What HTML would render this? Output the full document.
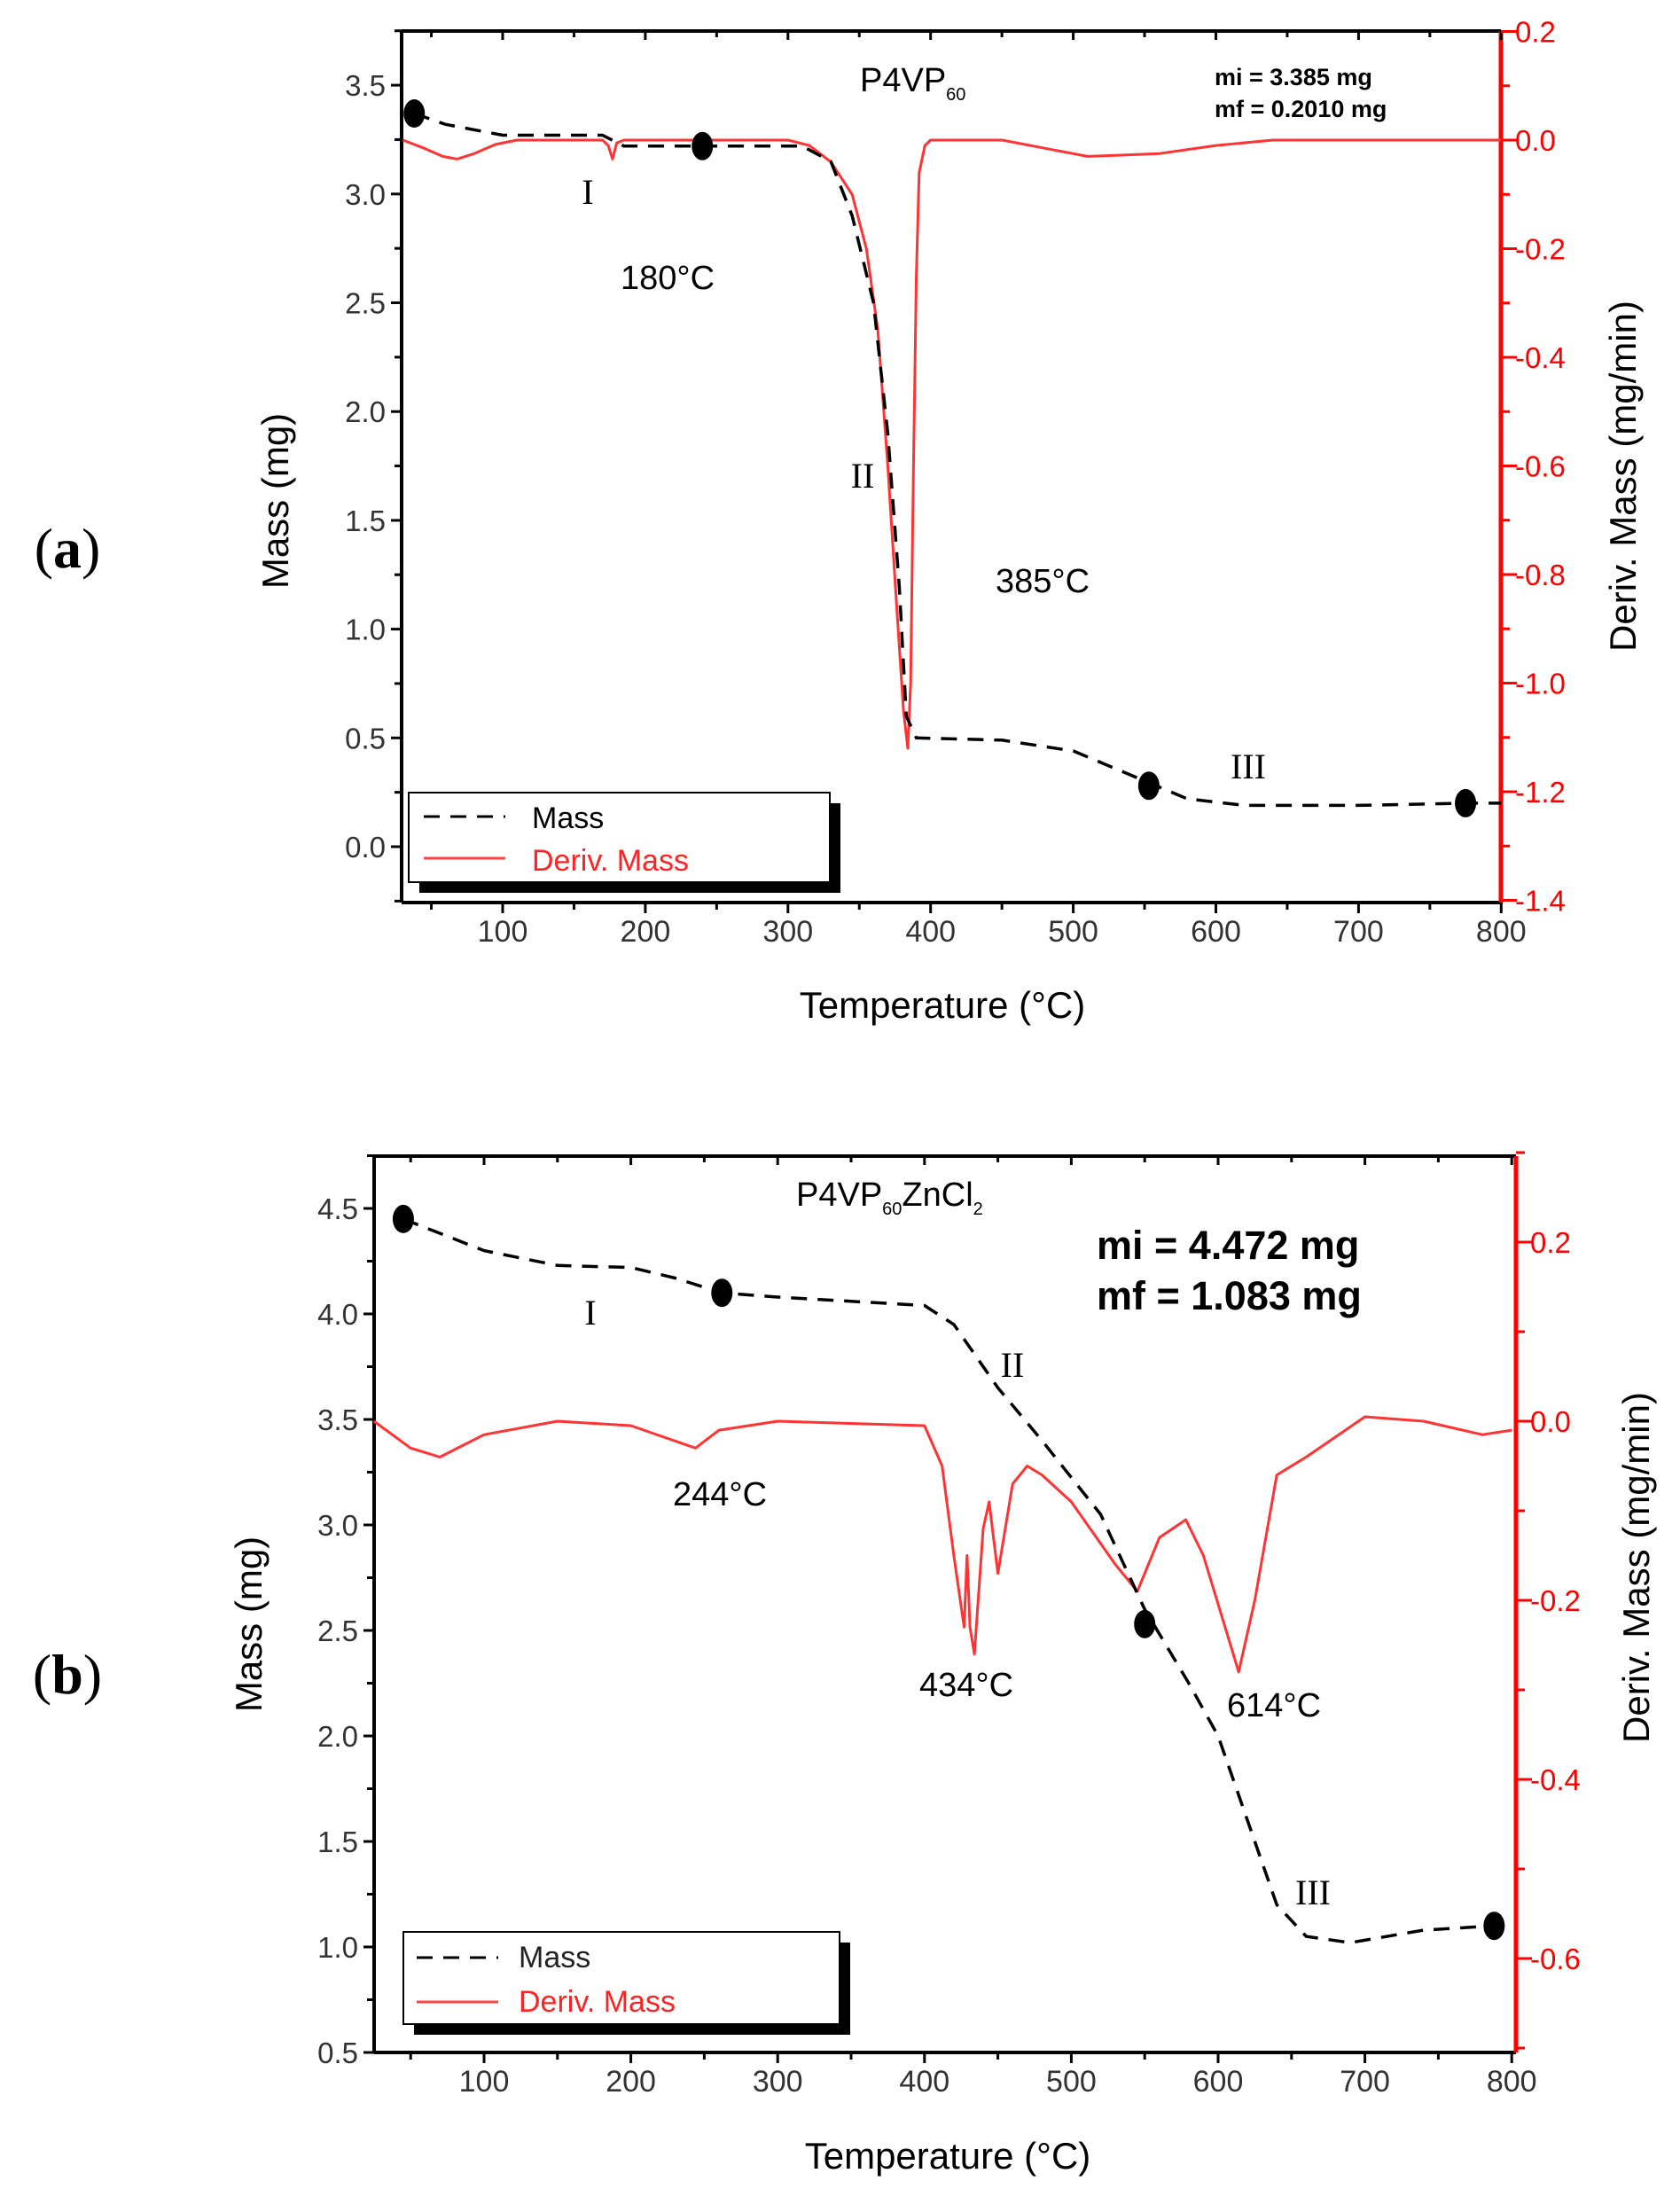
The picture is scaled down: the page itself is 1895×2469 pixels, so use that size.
<!DOCTYPE html>
<html><head><meta charset="utf-8"><style>
html,body{margin:0;padding:0;background:#fff;}
svg{display:block;}
text{font-family:"Liberation Sans",sans-serif;}
text.serif{font-family:"Liberation Serif",serif;}
</style></head><body>
<svg id="s" width="1895" height="2469" viewBox="0 0 1895 2469" xmlns="http://www.w3.org/2000/svg">
<rect width="1895" height="2469" fill="#fff"/>
<g id="g"></g>
<text class="serif" x="76" y="640" font-size="64" text-anchor="middle">(<tspan font-weight="bold">a</tspan>)</text>
<text class="serif" x="76" y="1910" font-size="64" text-anchor="middle">(<tspan font-weight="bold">b</tspan>)</text>

<text transform="translate(325,565) rotate(-90)" font-size="42" text-anchor="middle">Mass (mg)</text>
<text transform="translate(1845,537) rotate(-90)" font-size="42" text-anchor="middle">Deriv. Mass  (mg/min)</text>
<text x="1063" y="1148" font-size="42" text-anchor="middle">Temperature (°C)</text>
<text transform="translate(295,1832) rotate(-90)" font-size="42" text-anchor="middle">Mass  (mg)</text>
<text transform="translate(1860,1768) rotate(-90)" font-size="42" text-anchor="middle">Deriv. Mass  (mg/min)</text>
<text x="1069" y="2446" font-size="42" text-anchor="middle">Temperature  (°C)</text>

<text x="970" y="103" font-size="38">P4VP<tspan font-size="20" dy="10">60</tspan></text>
<text x="1370" y="96" font-size="27" font-weight="bold">mi = 3.385 mg</text>
<text x="1370" y="132" font-size="27" font-weight="bold">mf = 0.2010 mg</text>
<text class="serif" x="663" y="230" font-size="40" text-anchor="middle">I</text>
<text x="753" y="326" font-size="38" text-anchor="middle">180°C</text>
<text class="serif" x="973" y="550" font-size="40" text-anchor="middle">II</text>
<text x="1176" y="668" font-size="38" text-anchor="middle">385°C</text>
<text class="serif" x="1408" y="878" font-size="40" text-anchor="middle">III</text>

<text x="898" y="1360" font-size="38">P4VP<tspan font-size="20" dy="10">60</tspan><tspan dy="-10">ZnCl</tspan><tspan font-size="20" dy="10">2</tspan></text>
<text x="1237" y="1420" font-size="45" font-weight="bold">mi = 4.472  mg</text>
<text x="1237" y="1477" font-size="45" font-weight="bold">mf = 1.083  mg</text>
<text class="serif" x="666" y="1494" font-size="40" text-anchor="middle">I</text>
<text class="serif" x="1142" y="1553" font-size="40" text-anchor="middle">II</text>
<text x="812" y="1698" font-size="38" text-anchor="middle">244°C</text>
<text x="1090" y="1913" font-size="38" text-anchor="middle">434°C</text>
<text x="1437" y="1936" font-size="38" text-anchor="middle">614°C</text>
<text class="serif" x="1481" y="2148" font-size="40" text-anchor="middle">III</text>

<rect x="473" y="906" width="475" height="101" fill="#000"/>
<rect x="461" y="894" width="475" height="101" fill="#fff" stroke="#000" stroke-width="2"/>
<line x1="478" y1="921" x2="570" y2="921" stroke="#000" stroke-width="3" stroke-dasharray="18,12"/>
<text x="600" y="934" font-size="34">Mass</text>
<line x1="478" y1="968" x2="570" y2="968" stroke="#f44" stroke-width="3"/>
<text x="600" y="982" font-size="34" fill="#f22">Deriv. Mass</text>

<rect x="467" y="2191" width="492" height="104" fill="#000"/>
<rect x="455" y="2179" width="492" height="104" fill="#fff" stroke="#000" stroke-width="2"/>
<line x1="470" y1="2208" x2="562" y2="2208" stroke="#000" stroke-width="3" stroke-dasharray="18,12"/>
<text x="585" y="2219" font-size="34" fill="#222">Mass</text>
<line x1="470" y1="2258" x2="562" y2="2258" stroke="#f44" stroke-width="3"/>
<text x="585" y="2269" font-size="34" fill="#f22">Deriv. Mass</text>
</svg>
<script>
var NS="http://www.w3.org/2000/svg",g=document.getElementById('g');
function el(t,a,txt){var e=document.createElementNS(NS,t);for(var k in a)e.setAttribute(k,a[k]);if(txt!==undefined)e.textContent=txt;g.appendChild(e);return e;}
function plot(P){
  var X=function(t){return P.x0+(t-P.t0)*P.xs;},Y=function(v){return P.y0-(v-P.v0)*P.ys;},R=function(d){return P.r0-d*P.rs;};
  el('line',{x1:P.L,y1:P.T,x2:P.Rt,y2:P.T,stroke:'#000','stroke-width':4});
  el('line',{x1:P.L,y1:P.B,x2:P.Rt,y2:P.B,stroke:'#000','stroke-width':4});
  el('line',{x1:P.L,y1:P.T,x2:P.L,y2:P.B,stroke:'#000','stroke-width':4});
  el('line',{x1:P.Rt,y1:P.T,x2:P.Rt,y2:P.B,stroke:'#f00','stroke-width':5});
  for(var t=50;t<=800;t+=50){var x=X(t);if(x<P.L-1)continue;var big=t%100==0;
    el('line',{x1:x,y1:P.B,x2:x,y2:P.B+(big?12:8),stroke:'#000','stroke-width':3});
    el('line',{x1:x,y1:P.T,x2:x,y2:P.T+(big?10:7),stroke:'#000','stroke-width':3});
    if(big)el('text',{x:x,y:P.B+44,'font-size':34,'text-anchor':'middle',fill:'#333'},t);}
  for(var v=P.lv0;v<=P.lv1+1e-6;v+=0.25){var y=Y(v),big=Math.abs(v*2-Math.round(v*2))<1e-6;
    el('line',{x1:P.L-(big?12:8),y1:y,x2:P.L,y2:y,stroke:'#000','stroke-width':3});
    if(big)el('text',{x:P.L-18,y:y+12,'font-size':33,'text-anchor':'end',fill:'#333'},v.toFixed(1));}
  for(var d=P.rv0;d<=P.rv1+1e-6;d+=0.1){var y=R(d),big=Math.abs(d*5-Math.round(d*5))<1e-6;
    el('line',{x1:P.Rt,y1:y,x2:P.Rt+(big?18:10),y2:y,stroke:'#f00','stroke-width':3});
    if(big)el('text',{x:P.Rt+16,y:y+12,'font-size':33,fill:'#f00'},(Math.abs(d)<1e-6?'0.0':(d<0?'-':'')+Math.abs(d).toFixed(1)));}
  function pth(pts,f){return pts.map(function(p,i){return (i?'L':'M')+X(p[0]).toFixed(1)+','+f(p[1]).toFixed(1);}).join(' ');}
  el('path',{d:pth(P.deriv,R),fill:'none',stroke:'#f33','stroke-width':3,'stroke-linejoin':'round'});
  el('path',{d:pth(P.mass,Y),fill:'none',stroke:'#000','stroke-width':3.5,'stroke-dasharray':'18,12'});
  P.marks.forEach(function(m){el('ellipse',{cx:X(m[0]),cy:Y(m[1]),rx:12,ry:16,fill:'#000'});});
}
plot({L:453,Rt:1693,T:35,B:1018,x0:567,t0:100,xs:1.609,y0:955,v0:0,ys:245.4,r0:158,rs:612.5,
 lv0:-0.25,lv1:3.75,rv0:-1.4,rv1:0.2,
 mass:[[38,3.37],[60,3.32],[100,3.27],[170,3.27],[185,3.22],[240,3.22],[310,3.22],[330,3.15],[345,2.9],[360,2.5],[370,1.9],[378,1.2],[383,0.6],[390,0.5],[450,0.49],[500,0.44],[540,0.33],[580,0.22],[620,0.19],[700,0.19],[775,0.2],[800,0.2]],
 deriv:[[30,0],[45,-0.015],[58,-0.03],[68,-0.035],[80,-0.025],[95,-0.008],[110,0],[170,0],[174,-0.01],[177,-0.035],[180,-0.005],[185,0],[300,0],[315,-0.01],[330,-0.04],[345,-0.1],[355,-0.2],[363,-0.35],[370,-0.6],[376,-0.85],[381,-1.05],[384,-1.12],[386,-1.0],[388,-0.6],[390,-0.25],[392,-0.06],[396,-0.01],[400,0],[450,0],[480,-0.015],[510,-0.03],[560,-0.025],[600,-0.01],[640,0],[800,0]],
 marks:[[38,3.37],[240,3.22],[553,0.28],[775,0.2]]});
plot({L:422,Rt:1710,T:1304,B:2315,x0:546,t0:100,xs:1.656,y0:2315,v0:0.5,ys:238,r0:1603,rs:1010,
 lv0:0.5,lv1:4.75,rv0:-0.7,rv1:0.3,
 mass:[[45,4.45],[100,4.3],[150,4.23],[200,4.22],[230,4.17],[262,4.1],[300,4.08],[400,4.04],[420,3.95],[450,3.65],[480,3.4],[520,3.05],[550,2.6],[580,2.25],[600,2.0],[620,1.6],[640,1.2],[660,1.05],[690,1.02],[740,1.08],[788,1.1]],
 deriv:[[25,0],[50,-0.03],[70,-0.04],[100,-0.015],[150,0],[200,-0.005],[244,-0.03],[260,-0.01],[300,0],[400,-0.005],[412,-0.05],[420,-0.15],[427,-0.23],[429,-0.15],[431,-0.23],[434,-0.26],[440,-0.12],[444,-0.09],[450,-0.17],[460,-0.07],[470,-0.05],[480,-0.06],[500,-0.09],[530,-0.16],[545,-0.19],[560,-0.13],[578,-0.11],[590,-0.15],[614,-0.28],[625,-0.2],[640,-0.06],[660,-0.04],[700,0.005],[740,0],[780,-0.015],[800,-0.01]],
 marks:[[45,4.45],[262,4.1],[550,2.53],[788,1.1]]});
</script>
</body></html>
